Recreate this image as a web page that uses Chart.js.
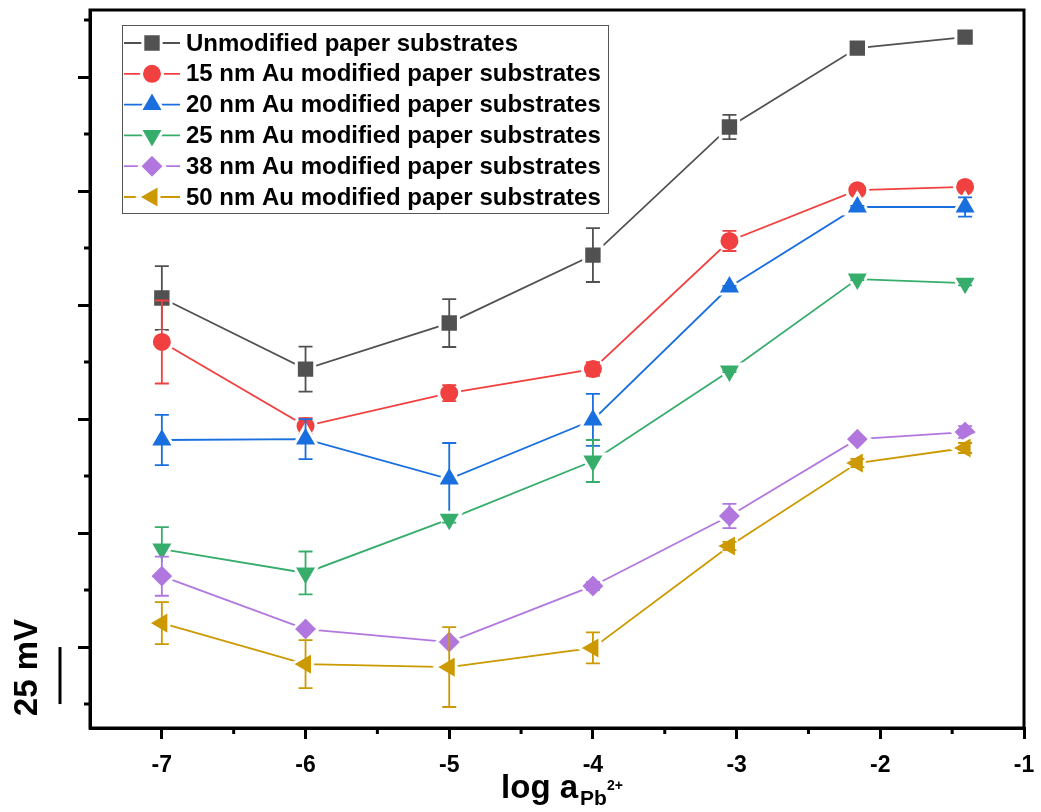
<!DOCTYPE html>
<html>
<head>
<meta charset="utf-8">
<script src="https://cdn.jsdelivr.net/npm/chart.js@4.4.1/dist/chart.umd.min.js"></script>
<style>
  html, body { margin: 0; padding: 0; background: #fff; }
</style>
</head>
<body>
<canvas id="chart" width="1041" height="812"></canvas>
<script>
// x positions (log a Pb2+)
const logA = [-7, -6, -5, -4, -3.05, -2.16, -1.41];

const seriesNames = [
  'Unmodified paper substrates',
  '15 nm Au modified paper substrates',
  '20 nm Au modified paper substrates',
  '25 nm Au modified paper substrates',
  '38 nm Au modified paper substrates',
  '50 nm Au modified paper substrates'
];

// potentials in mV (relative offset, axis has no labels)
const unmodified    = [153.1, 121.9, 142.1, 171.9, 228.1, 262.7, 267.5];
const unmodifiedErr = [14.0, 9.9, 10.5, 11.8, 5.3, 0.8, 0.8];
const au15          = [133.8, 96.9, 111.4, 121.9, 178.1, 200.4, 201.8];
const au15Err       = [18.2, 3.5, 3.5, 3.0, 4.4, 0.5, 0.5];
const au20          = [90.8, 91.2, 73.7, 99.6, 157.9, 193.0, 193.0];
const au20Err       = [11.0, 8.8, 15.8, 11.4, 0.5, 0.5, 4.2];
const au25          = [43.0, 32.5, 56.1, 81.6, 121.1, 161.4, 159.6];
const au25Err       = [9.6, 9.4, 1.5, 9.2, 0.5, 0.5, 1.0];
const au38          = [31.1, 7.9, 2.2, 26.8, 57.5, 91.2, 94.3];
const au38Err       = [8.6, 0.5, 0.5, 1.8, 5.3, 0.5, 2.6];
const au50          = [10.5, -7.5, -8.8, -0.4, 44.3, 80.7, 87.3];
const au50Err       = [9.2, 10.5, 17.5, 6.8, 1.8, 1.8, 2.2];

const xTicks = [-7, -6, -5, -4, -3, -2, -1];
const xMinorTicks = [-6.5, -5.5, -4.5, -3.5, -2.5, -1.5];
const yTicks = [0, 50, 100, 150, 200, 250];
const yMinorTicks = [-25, 25, 75, 125, 175, 225, 275];
const scaleBar = [0, -25]; // 25 mV bar

const allValues = [unmodified, au15, au20, au25, au38, au50];
const allErrors = [unmodifiedErr, au15Err, au20Err, au25Err, au38Err, au50Err];

const colors = ['#515151', '#F14040', '#1A6FDF', '#37AD6B', '#B177DE', '#CC9900'];
const pointStyles = ['rect', 'circle', 'triangle', 'triangle', 'rectRot', 'triangle'];
const rotations = [0, 0, 0, 180, 0, -90];
const radii = [13, 10.5, 14, 14, 12.5, 14];

const FONT = "'Liberation Sans', Arial, sans-serif";

const datasets = allValues.map((vals, i) => ({
  label: seriesNames[i],
  data: vals.map((v, j) => ({ x: logA[j], y: v })),
  borderColor: colors[i],
  backgroundColor: colors[i],
  borderWidth: 1.8,
  showLine: true,
  pointStyle: pointStyles[i],
  pointRotation: rotations[i],
  pointRadius: radii[i],
  pointBackgroundColor: colors[i],
  pointBorderColor: '#ffffff',
  pointBorderWidth: 3,
  order: allValues.length - i
}));

const errorBars = {
  id: 'errorBars',
  afterDatasetDraw(chart, args) {
    const ctx = chart.ctx;
    const y = chart.scales.y;
    const errs = allErrors[args.index];
    const vals = allValues[args.index];
    ctx.save();
    ctx.strokeStyle = colors[args.index];
    ctx.lineWidth = 1.8;
    args.meta.data.forEach((pt, j) => {
      const top = y.getPixelForValue(vals[j] + errs[j]);
      const bot = y.getPixelForValue(vals[j] - errs[j]);
      ctx.beginPath();
      ctx.moveTo(pt.x, top); ctx.lineTo(pt.x, bot);
      ctx.moveTo(pt.x - 7, top); ctx.lineTo(pt.x + 7, top);
      ctx.moveTo(pt.x - 7, bot); ctx.lineTo(pt.x + 7, bot);
      ctx.stroke();
    });
    ctx.restore();
  }
};

const decorations = {
  id: 'decorations',
  afterDraw(chart) {
    const ctx = chart.ctx;
    const a = chart.chartArea;
    const xs = chart.scales.x, ys = chart.scales.y;
    ctx.save();
    // frame
    ctx.strokeStyle = '#000';
    ctx.lineWidth = 3;
    ctx.strokeRect(a.left, a.top, a.right - a.left, a.bottom - a.top);
    // minor ticks
    ctx.beginPath();
    yMinorTicks.forEach(v => {
      const p = ys.getPixelForValue(v);
      ctx.moveTo(a.left - 6, p); ctx.lineTo(a.left, p);
    });
    xMinorTicks.forEach(v => {
      const p = xs.getPixelForValue(v);
      ctx.moveTo(p, a.bottom); ctx.lineTo(p, a.bottom + 6);
    });
    ctx.stroke();

    // scale bar
    ctx.beginPath();
    ctx.moveTo(60, ys.getPixelForValue(scaleBar[0]));
    ctx.lineTo(60, ys.getPixelForValue(scaleBar[1]));
    ctx.stroke();
    ctx.fillStyle = '#000';
    ctx.font = 'bold 33px ' + FONT;
    ctx.textAlign = 'center';
    ctx.textBaseline = 'middle';
    ctx.translate(28, (ys.getPixelForValue(scaleBar[0]) + ys.getPixelForValue(scaleBar[1])) / 2 - 8);
    ctx.rotate(-Math.PI / 2);
    ctx.fillText('25 mV', 0, 0);
    ctx.setTransform(1, 0, 0, 1, 0, 0);

    // x axis title: log a_{Pb^{2+}}
    ctx.textAlign = 'left';
    ctx.textBaseline = 'alphabetic';
    ctx.font = 'bold 33px ' + FONT;
    const w1 = ctx.measureText('log a').width;
    ctx.font = 'bold 21px ' + FONT;
    const w2 = ctx.measureText('Pb').width;
    ctx.font = 'bold 14px ' + FONT;
    const w3 = ctx.measureText('2+').width;
    let tx = (a.left + a.right) / 2 + 5 - (w1 + w2 + w3 + 2) / 2;
    ctx.font = 'bold 33px ' + FONT;
    ctx.fillText('log a', tx, 798);
    tx += w1 + 2;
    ctx.font = 'bold 21px ' + FONT;
    ctx.fillText('Pb', tx, 805);
    tx += w2;
    ctx.font = 'bold 14px ' + FONT;
    ctx.fillText('2+', tx, 790);

    // legend
    const lx = a.left + 32, ly = a.top + 15;
    ctx.strokeStyle = '#555';
    ctx.lineWidth = 1;
    ctx.strokeRect(lx + 0.5, ly + 0.5, 486, 188);
    ctx.font = 'bold 24px ' + FONT;
    ctx.textBaseline = 'middle';
    chart.data.datasets.forEach((ds, i) => {
      const cy = ly + 18 + i * 30.8;
      ctx.strokeStyle = colors[i];
      ctx.lineWidth = 1.8;
      ctx.beginPath();
      ctx.moveTo(lx + 2, cy); ctx.lineTo(lx + 58, cy);
      ctx.stroke();
      ctx.fillStyle = colors[i];
      ctx.strokeStyle = '#fff';
      ctx.lineWidth = 3;
      Chart.helpers.drawPoint(ctx, {
        pointStyle: pointStyles[i], rotation: rotations[i], radius: radii[i], borderWidth: 3
      }, lx + 30, cy);
      ctx.fillStyle = '#000';
      ctx.fillText(ds.label, lx + 64, cy + 1);
    });
    ctx.restore();
  }
};

function noPad(s) {
  s.paddingTop = 0; s.paddingBottom = 0; s.paddingLeft = 0; s.paddingRight = 0;
}

new Chart(document.getElementById('chart'), {
  type: 'scatter',
  data: { datasets: datasets },
  options: {
    responsive: false,
    animation: false,
    layout: { autoPadding: false, padding: { top: 10, right: 17, left: 0, bottom: 0 } },
    plugins: { legend: { display: false }, tooltip: { enabled: false } },
    scales: {
      x: {
        type: 'linear',
        min: -7.5,
        max: -1,
        border: { color: '#000', width: 3 },
        grid: { drawOnChartArea: false, color: '#000', lineWidth: 3, tickLength: 11 },
        ticks: { color: '#000', font: { family: FONT, size: 23, weight: 'bold' }, padding: 13 },
        afterBuildTicks: s => { s.ticks = xTicks.map(v => ({ value: v })); },
        afterFit: s => { s.height = 84; noPad(s); }
      },
      y: {
        type: 'linear',
        min: -35.5,
        max: 279.4,
        border: { color: '#000', width: 3 },
        grid: { drawOnChartArea: false, color: '#000', lineWidth: 3, tickLength: 12 },
        ticks: { display: false },
        afterBuildTicks: s => { s.ticks = yTicks.map(v => ({ value: v })); },
        afterFit: s => { s.width = 90; noPad(s); }
      }
    }
  },
  plugins: [errorBars, decorations]
});
</script>
</body>
</html>
